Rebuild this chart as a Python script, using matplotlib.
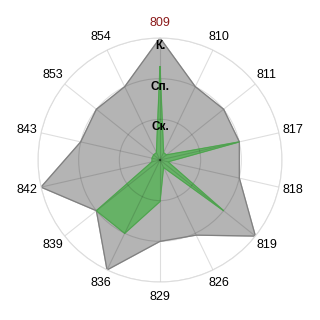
import numpy as np
import matplotlib
matplotlib.use('Agg')
import matplotlib.pyplot as plt

# categories around the radar, clockwise from the top
categories = ['809', '810', '811', '817', '818', '819', '826',
              '829', '836', '839', '842', '843', '853', '854']
# grey shape (outer) and green shape (inner)
total_values = [3.0, 2.0, 2.0, 2.0, 2.0, 3.0, 2.05,
                2.0, 3.0, 2.0, 3.0, 2.0, 2.0, 2.0]
current_values = [2.3, 0.2, 0.2, 2.0, 0.2, 2.0, 0.2,
                  1.02, 2.0, 2.0, 0.2, 0.2, 0.2, 0.2]
level_values = [1, 2, 3]
level_labels = ['Ск.', 'Сп.', 'К.']

plt.rcParams['font.family'] = ['Liberation Sans', 'DejaVu Sans']

n = len(categories)
angles = np.linspace(0, 2 * np.pi, n, endpoint=False)
ang_closed = np.append(angles, angles[0])
tot_closed = np.append(total_values, total_values[0])
cur_closed = np.append(current_values, current_values[0])

fig = plt.figure(figsize=(3.2, 3.2), dpi=100)
ax = fig.add_axes([0.11875, 0.11875, 0.7625, 0.7625], polar=True)
ax.set_theta_zero_location('N')
ax.set_theta_direction(-1)

# grey shape
ax.fill(ang_closed, tot_closed, color='#b4b4b4', zorder=1)
ax.plot(ang_closed, tot_closed, color='#808080', linewidth=0.9, zorder=2)

# green shape
ax.fill(ang_closed, cur_closed, color='#66b266', zorder=1.1)
ax.plot(ang_closed, cur_closed, color='#4ea24e', linewidth=0.7, zorder=2)

ax.set_ylim(0, 3)
ax.set_yticks(level_values)
ax.set_yticklabels([])
ax.set_xticks(angles)
ax.set_xticklabels(categories, fontsize=9)
ax.tick_params(axis='x', pad=0)
ax.get_xticklabels()[0].set_color('#8b1a1a')

ax.grid(True, color='black', alpha=0.13, linewidth=0.8)
ax.spines['polar'].set_color('#dddddd')
ax.spines['polar'].set_linewidth(0.8)

# level names on the top spoke
for v, lab in zip(level_values, level_labels):
    ax.text(0, v - 0.05, lab, ha='center', va='top', fontsize=8.5,
            fontweight='bold', color='black', zorder=5)

fig.savefig('out.png', dpi=100)
